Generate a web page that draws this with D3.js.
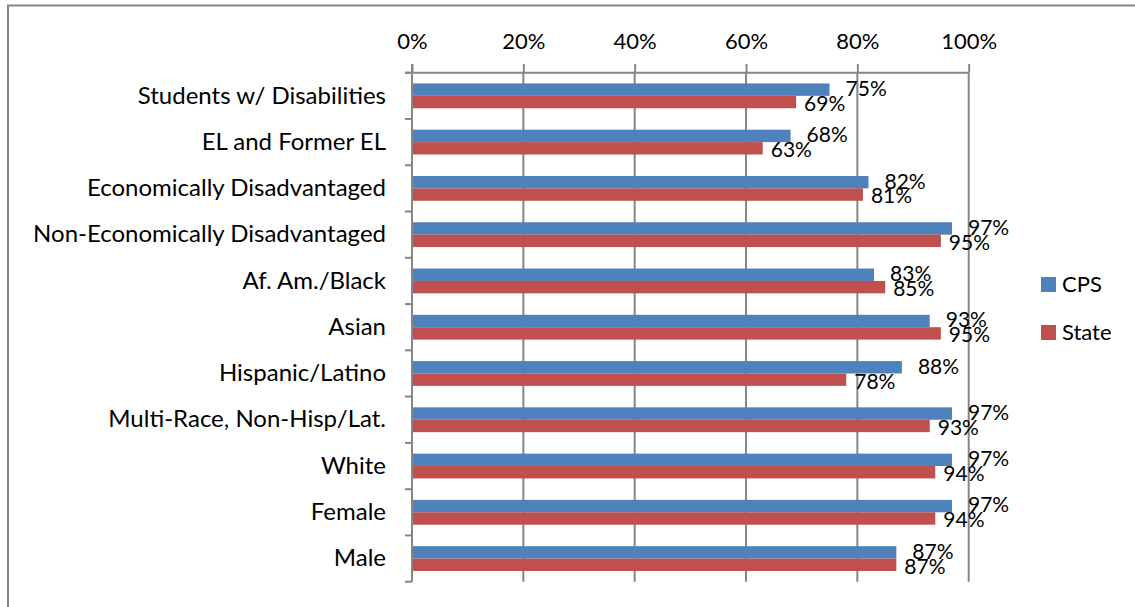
<!DOCTYPE html>
<html>
<head>
<meta charset="utf-8">
<script src="https://cdn.jsdelivr.net/npm/d3@7"></script>
<style>
  html, body { margin: 0; padding: 0; background: #fff; overflow: hidden; }
  text { font-family: Lato, "Liberation Sans", sans-serif; fill: #000; }
</style>
</head>
<body>
<div id="chart"></div>
<script>
'use strict';

// chart data
var categories = ['Students w/ Disabilities ', 'EL and Former EL', 'Economically Disadvantaged',
  'Non-Economically Disadvantaged', 'Af. Am./Black', 'Asian', 'Hispanic/Latino',
  'Multi-Race, Non-Hisp/Lat.', 'White', 'Female', 'Male'];
var cpsValues = [75, 68, 82, 97, 83, 93, 88, 97, 97, 97, 87];
var stateValues = [69, 63, 81, 95, 85, 95, 78, 93, 94, 94, 87];
var xTicks = [0, 20, 40, 60, 80, 100];
var seriesNames = ['CPS', 'State'];
var seriesColors = ['#4f81bd', '#c0504d'];

var width = 1135, height = 607;
var plot = { x0: 412, x1: 968.7, y0: 72.7, y1: 581.7 };
var gridColor = '#868686';

var svg = d3.select('#chart').append('svg')
    .attr('width', width)
    .attr('height', height);

// outer frame (runs off the right and bottom edges)
svg.append('rect')
  .attr('x', 8).attr('y', 5.5)
  .attr('width', 1200).attr('height', 700)
  .attr('fill', 'none')
  .attr('stroke', gridColor)
  .attr('stroke-width', 2);

var x = d3.scaleLinear().domain([0, 100]).range([plot.x0, plot.x1]);
var y = d3.scaleBand().domain(categories).range([plot.y0, plot.y1]);
var barH = 12.4;

// vertical gridlines
svg.append('g').selectAll('line')
  .data(xTicks.slice(1))
  .join('line')
    .attr('x1', function(d) { return x(d); })
    .attr('x2', function(d) { return x(d); })
    .attr('y1', plot.y0).attr('y2', plot.y1)
    .attr('stroke', gridColor).attr('stroke-width', 2);

// top axis
var xAxis = d3.axisTop(x)
    .tickValues(xTicks)
    .tickSize(8.7)
    .tickPadding(15)
    .tickFormat(function(d) { return d + '%'; });
var gx = svg.append('g')
    .attr('transform', 'translate(0,' + plot.y0 + ')')
    .call(xAxis);
gx.select('.domain').remove();
gx.append('line')
  .attr('x1', plot.x0 - 7).attr('x2', plot.x1)
  .attr('stroke', gridColor).attr('stroke-width', 2);
gx.selectAll('.tick line').attr('stroke', gridColor).attr('stroke-width', 2);
gx.selectAll('.tick text')
  .style('font-size', '22px')
  .attr('fill', '#000');

// left axis
var yAxis = d3.axisLeft(y).tickSize(0).tickPadding(26);
var gy = svg.append('g')
    .attr('transform', 'translate(' + plot.x0 + ',0)')
    .call(yAxis);
gy.select('.domain').remove();
gy.append('line')
  .attr('y1', plot.y0 - 8.7).attr('y2', plot.y1)
  .attr('stroke', gridColor).attr('stroke-width', 2);
gy.selectAll('.tick text')
  .style('font-size', '24px')
  .attr('fill', '#000');
// ticks between categories
gy.selectAll('.sep')
  .data(d3.range(categories.length + 1))
  .join('line')
    .attr('class', 'sep')
    .attr('x1', -7).attr('x2', 0)
    .attr('y1', function(i) { return plot.y0 + i * y.step(); })
    .attr('y2', function(i) { return plot.y0 + i * y.step(); })
    .attr('stroke', gridColor).attr('stroke-width', 2);

// bars
var series = [cpsValues, stateValues];
var labelDx = [16, 8];
series.forEach(function(values, s) {
  var g = svg.append('g');
  var top = function(d, i) { return y(categories[i]) + y.bandwidth() / 2 - barH + s * barH; };
  g.selectAll('rect')
    .data(values)
    .join('rect')
      .attr('x', x(0) + 1)
      .attr('y', top)
      .attr('width', function(d) { return x(d) - x(0) - 1; })
      .attr('height', barH)
      .attr('fill', seriesColors[s]);
  g.selectAll('text')
    .data(values)
    .join('text')
      .attr('x', function(d) { return x(d) + labelDx[s]; })
      .attr('y', function(d, i) { return top(d, i) + barH / 2 + (s ? 1.5 : -1); })
      .attr('dy', '0.35em')
      .style('font-size', '21px')
      .text(function(d) { return d + '%'; });
});

// legend
var legend = svg.append('g').selectAll('g')
  .data(seriesNames)
  .join('g')
    .attr('transform', function(d, i) { return 'translate(1041,' + (277 + i * 48) + ')'; });
legend.append('rect')
  .attr('width', 15).attr('height', 15)
  .attr('fill', function(d, i) { return seriesColors[i]; });
legend.append('text')
  .attr('x', 21).attr('y', 7.5).attr('dy', '0.35em')
  .style('font-size', '22px')
  .text(function(d) { return d; });
</script>
</body>
</html>
